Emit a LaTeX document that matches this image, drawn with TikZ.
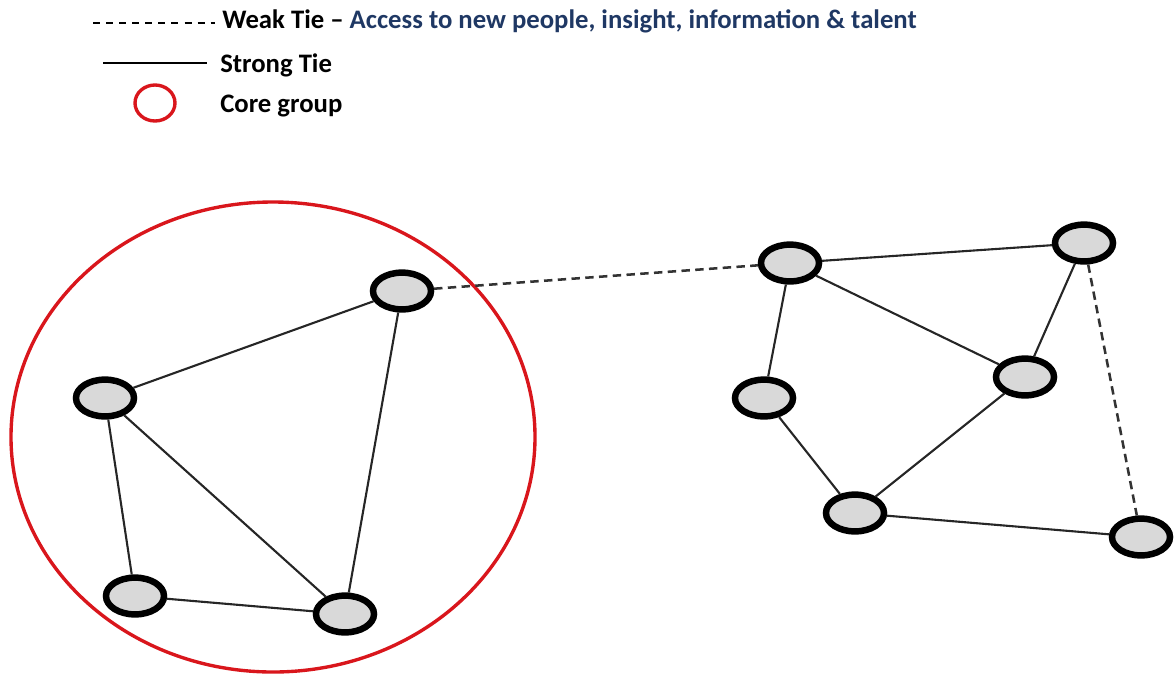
\documentclass[tikz,border=0pt]{standalone}
\usepackage{fontspec}
\setmainfont{Carlito}
\usepackage{xcolor}
\definecolor{corered}{HTML}{D9161C}
\definecolor{navy}{HTML}{1F3864}
\definecolor{nodegray}{HTML}{D9D9D9}
\usepackage{tikz}
\usetikzlibrary{positioning,shapes.geometric}

\tikzset{
  person/.style={ellipse,draw=black,fill=nodegray,line width=4.6pt,
    minimum width=1.45cm,minimum height=0.92cm,inner sep=0pt},
  strongtie/.style={black!85,line width=1.5pt},
  weaktie/.style={black!80,line width=1.8pt,dash pattern=on 6pt off 3.8pt},
  legendtext/.style={font=\bfseries\fontsize{19}{21}\selectfont,anchor=base west,inner sep=0pt}
}

\begin{document}
\begin{tikzpicture}[x=0.025cm,y=-0.025cm]
  \useasboundingbox (0,0) rectangle (1175,673);
  % legend
  \draw[black,line width=1.8pt,dash pattern=on 5pt off 4.3pt] (93,23) -- (215,23);
  \node[legendtext] (weak) at (222,28) {Weak Tie -- \textcolor{navy}{Access to new people, insight, information \& talent}};
  \draw[black,line width=1.8pt] (103,63) -- (207,63);
  \node[legendtext] (strong) at (220,72) {Strong Tie};
  \draw[corered,line width=2.4pt] (155,103) ellipse (20 and 18);
  \node[legendtext] (core) at (220,112) {Core group};

  % core group
  \draw[corered,line width=2.4pt] (273,437) ellipse (262 and 235);

  % people
  \foreach \n/\x/\y in {a/402/291, b/105/398, c/135/596, d/345/614,
                        e/790/263, f/1084/243, g/764/398, h/1025/377, i/855/513, j/1141/537}
    \node[person] (\n) at (\x,\y) {};

  % ties
  \foreach \u/\v in {a/b, a/d, b/c, b/d, c/d, e/f, e/g, e/h, f/h, g/i, i/h, i/j}
    \draw[strongtie] (\u) -- (\v);
  \draw[weaktie] (a) -- (e);
  \draw[weaktie] (f) -- (j);
\end{tikzpicture}
\end{document}
